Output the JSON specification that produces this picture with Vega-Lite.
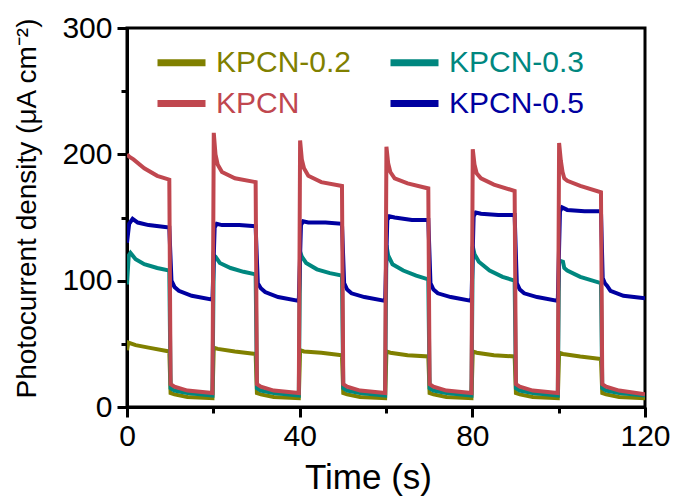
{
  "$schema": "https://vega.github.io/schema/vega-lite/v6.json",
  "width": 518,
  "height": 379,
  "autosize": "none",
  "padding": {"left": 127, "top": 28, "right": 29, "bottom": 91},
  "background": "white",
  "config": {
    "view": {"stroke": "black", "strokeWidth": 3},
    "font": "Liberation Sans",
    "axis": {
      "grid": false,
      "domainColor": "black",
      "domainWidth": 3,
      "tickColor": "black",
      "tickWidth": 3,
      "labelColor": "black",
      "titleColor": "black",
      "labelFont": "Liberation Sans",
      "titleFont": "Liberation Sans",
      "labelFontSize": 30,
      "titleFontWeight": "normal"
    }
  },
  "data": {"values": [
    {"s":"KPCN-0.2","t":0,"v":45},{"s":"KPCN-0.2","t":0.3,"v":51},{"s":"KPCN-0.2","t":2,"v":49},{"s":"KPCN-0.2","t":5,"v":47},{"s":"KPCN-0.2","t":9.8,"v":44},{"s":"KPCN-0.2","t":10.1,"v":11},{"s":"KPCN-0.2","t":11,"v":10},{"s":"KPCN-0.2","t":14,"v":8},{"s":"KPCN-0.2","t":19.8,"v":7},
    {"s":"KPCN-0.2","t":20.1,"v":47},{"s":"KPCN-0.2","t":21,"v":46},{"s":"KPCN-0.2","t":25,"v":44},{"s":"KPCN-0.2","t":29.8,"v":42},{"s":"KPCN-0.2","t":30.1,"v":11},{"s":"KPCN-0.2","t":31,"v":10},{"s":"KPCN-0.2","t":34,"v":8},{"s":"KPCN-0.2","t":39.8,"v":7},
    {"s":"KPCN-0.2","t":40.1,"v":45},{"s":"KPCN-0.2","t":41,"v":44},{"s":"KPCN-0.2","t":45,"v":43},{"s":"KPCN-0.2","t":49.8,"v":41},{"s":"KPCN-0.2","t":50.1,"v":11},{"s":"KPCN-0.2","t":51,"v":10},{"s":"KPCN-0.2","t":54,"v":8},{"s":"KPCN-0.2","t":59.8,"v":7},
    {"s":"KPCN-0.2","t":60.1,"v":44},{"s":"KPCN-0.2","t":61,"v":43},{"s":"KPCN-0.2","t":65,"v":41},{"s":"KPCN-0.2","t":69.8,"v":40},{"s":"KPCN-0.2","t":70.1,"v":11},{"s":"KPCN-0.2","t":71,"v":10},{"s":"KPCN-0.2","t":74,"v":8},{"s":"KPCN-0.2","t":79.8,"v":7},
    {"s":"KPCN-0.2","t":80.1,"v":44},{"s":"KPCN-0.2","t":81,"v":43},{"s":"KPCN-0.2","t":85,"v":41},{"s":"KPCN-0.2","t":89.8,"v":40},{"s":"KPCN-0.2","t":90.1,"v":11},{"s":"KPCN-0.2","t":91,"v":10},{"s":"KPCN-0.2","t":94,"v":8},{"s":"KPCN-0.2","t":99.8,"v":7},
    {"s":"KPCN-0.2","t":100.1,"v":43},{"s":"KPCN-0.2","t":101,"v":42},{"s":"KPCN-0.2","t":105,"v":40},{"s":"KPCN-0.2","t":109.8,"v":38},{"s":"KPCN-0.2","t":110.1,"v":11},{"s":"KPCN-0.2","t":111,"v":10},{"s":"KPCN-0.2","t":114,"v":8},{"s":"KPCN-0.2","t":120,"v":7},

    {"s":"KPCN-0.3","t":0,"v":97},{"s":"KPCN-0.3","t":0.4,"v":120},{"s":"KPCN-0.3","t":0.8,"v":122},{"s":"KPCN-0.3","t":2,"v":117},{"s":"KPCN-0.3","t":4,"v":113},{"s":"KPCN-0.3","t":7,"v":110},{"s":"KPCN-0.3","t":9.8,"v":108},{"s":"KPCN-0.3","t":10.1,"v":15},{"s":"KPCN-0.3","t":11,"v":13},{"s":"KPCN-0.3","t":14,"v":11},{"s":"KPCN-0.3","t":19.8,"v":9},
    {"s":"KPCN-0.3","t":20.1,"v":120},{"s":"KPCN-0.3","t":20.5,"v":119},{"s":"KPCN-0.3","t":21.5,"v":114},{"s":"KPCN-0.3","t":24,"v":110},{"s":"KPCN-0.3","t":27,"v":107},{"s":"KPCN-0.3","t":29.8,"v":105},{"s":"KPCN-0.3","t":30.1,"v":15},{"s":"KPCN-0.3","t":31,"v":13},{"s":"KPCN-0.3","t":34,"v":11},{"s":"KPCN-0.3","t":39.8,"v":9},
    {"s":"KPCN-0.3","t":40.1,"v":123},{"s":"KPCN-0.3","t":40.5,"v":119},{"s":"KPCN-0.3","t":41.5,"v":114},{"s":"KPCN-0.3","t":44,"v":109},{"s":"KPCN-0.3","t":47,"v":106},{"s":"KPCN-0.3","t":49.8,"v":104},{"s":"KPCN-0.3","t":50.1,"v":15},{"s":"KPCN-0.3","t":51,"v":13},{"s":"KPCN-0.3","t":54,"v":11},{"s":"KPCN-0.3","t":59.8,"v":9},
    {"s":"KPCN-0.3","t":60.1,"v":128},{"s":"KPCN-0.3","t":60.5,"v":120},{"s":"KPCN-0.3","t":61.5,"v":113},{"s":"KPCN-0.3","t":64,"v":108},{"s":"KPCN-0.3","t":67,"v":104},{"s":"KPCN-0.3","t":69.8,"v":101},{"s":"KPCN-0.3","t":70.1,"v":15},{"s":"KPCN-0.3","t":71,"v":13},{"s":"KPCN-0.3","t":74,"v":11},{"s":"KPCN-0.3","t":79.8,"v":9},
    {"s":"KPCN-0.3","t":80.1,"v":127},{"s":"KPCN-0.3","t":80.5,"v":121},{"s":"KPCN-0.3","t":81.5,"v":115},{"s":"KPCN-0.3","t":84,"v":108},{"s":"KPCN-0.3","t":87,"v":103},{"s":"KPCN-0.3","t":89.8,"v":100},{"s":"KPCN-0.3","t":90.1,"v":15},{"s":"KPCN-0.3","t":91,"v":13},{"s":"KPCN-0.3","t":94,"v":11},{"s":"KPCN-0.3","t":99.8,"v":9},
    {"s":"KPCN-0.3","t":100.1,"v":116},{"s":"KPCN-0.3","t":101,"v":115},{"s":"KPCN-0.3","t":101.3,"v":110},{"s":"KPCN-0.3","t":102,"v":108},{"s":"KPCN-0.3","t":105,"v":103},{"s":"KPCN-0.3","t":109.8,"v":98},{"s":"KPCN-0.3","t":110.1,"v":15},{"s":"KPCN-0.3","t":111,"v":13},{"s":"KPCN-0.3","t":114,"v":11},{"s":"KPCN-0.3","t":120,"v":9},

    {"s":"KPCN-0.5","t":0,"v":130},{"s":"KPCN-0.5","t":0.5,"v":145},{"s":"KPCN-0.5","t":1.3,"v":149},{"s":"KPCN-0.5","t":2.5,"v":146},{"s":"KPCN-0.5","t":5,"v":144},{"s":"KPCN-0.5","t":9.8,"v":142},{"s":"KPCN-0.5","t":10.3,"v":100},{"s":"KPCN-0.5","t":11,"v":95},{"s":"KPCN-0.5","t":12,"v":92},{"s":"KPCN-0.5","t":15,"v":88},{"s":"KPCN-0.5","t":19.8,"v":85},
    {"s":"KPCN-0.5","t":20.3,"v":142},{"s":"KPCN-0.5","t":20.8,"v":145},{"s":"KPCN-0.5","t":22,"v":144},{"s":"KPCN-0.5","t":26,"v":144},{"s":"KPCN-0.5","t":29.8,"v":143},{"s":"KPCN-0.5","t":30.3,"v":98},{"s":"KPCN-0.5","t":31,"v":94},{"s":"KPCN-0.5","t":32,"v":91},{"s":"KPCN-0.5","t":35,"v":87},{"s":"KPCN-0.5","t":39.8,"v":84},
    {"s":"KPCN-0.5","t":40.3,"v":144},{"s":"KPCN-0.5","t":40.8,"v":147},{"s":"KPCN-0.5","t":42,"v":146},{"s":"KPCN-0.5","t":46,"v":146},{"s":"KPCN-0.5","t":49.8,"v":145},{"s":"KPCN-0.5","t":50.3,"v":98},{"s":"KPCN-0.5","t":51,"v":93},{"s":"KPCN-0.5","t":52,"v":90},{"s":"KPCN-0.5","t":55,"v":87},{"s":"KPCN-0.5","t":59.8,"v":84},
    {"s":"KPCN-0.5","t":60.3,"v":148},{"s":"KPCN-0.5","t":60.8,"v":151},{"s":"KPCN-0.5","t":62,"v":150},{"s":"KPCN-0.5","t":66,"v":148},{"s":"KPCN-0.5","t":69.8,"v":148},{"s":"KPCN-0.5","t":70.3,"v":98},{"s":"KPCN-0.5","t":71,"v":93},{"s":"KPCN-0.5","t":72,"v":90},{"s":"KPCN-0.5","t":75,"v":87},{"s":"KPCN-0.5","t":79.8,"v":84},
    {"s":"KPCN-0.5","t":80.3,"v":151},{"s":"KPCN-0.5","t":80.8,"v":154},{"s":"KPCN-0.5","t":82,"v":153},{"s":"KPCN-0.5","t":86,"v":152},{"s":"KPCN-0.5","t":89.8,"v":152},{"s":"KPCN-0.5","t":90.3,"v":98},{"s":"KPCN-0.5","t":91,"v":93},{"s":"KPCN-0.5","t":92,"v":90},{"s":"KPCN-0.5","t":95,"v":87},{"s":"KPCN-0.5","t":99.8,"v":84},
    {"s":"KPCN-0.5","t":100.3,"v":155},{"s":"KPCN-0.5","t":100.8,"v":158},{"s":"KPCN-0.5","t":102,"v":156},{"s":"KPCN-0.5","t":106,"v":155},{"s":"KPCN-0.5","t":109.8,"v":155},{"s":"KPCN-0.5","t":110.2,"v":102},{"s":"KPCN-0.5","t":110.7,"v":98},{"s":"KPCN-0.5","t":111.2,"v":96},{"s":"KPCN-0.5","t":112,"v":92},{"s":"KPCN-0.5","t":115,"v":88},{"s":"KPCN-0.5","t":120,"v":86},

    {"s":"KPCN","t":0,"v":200},{"s":"KPCN","t":0.6,"v":198},{"s":"KPCN","t":1.5,"v":196},{"s":"KPCN","t":4,"v":189},{"s":"KPCN","t":7,"v":183},{"s":"KPCN","t":9.8,"v":180},{"s":"KPCN","t":10.1,"v":18},{"s":"KPCN","t":11,"v":16},{"s":"KPCN","t":14,"v":13},{"s":"KPCN","t":19.8,"v":11},
    {"s":"KPCN","t":20.1,"v":217},{"s":"KPCN","t":20.5,"v":200},{"s":"KPCN","t":21,"v":192},{"s":"KPCN","t":22,"v":186},{"s":"KPCN","t":25,"v":181},{"s":"KPCN","t":29.8,"v":178},{"s":"KPCN","t":30.1,"v":18},{"s":"KPCN","t":31,"v":16},{"s":"KPCN","t":34,"v":13},{"s":"KPCN","t":39.8,"v":11},
    {"s":"KPCN","t":40.1,"v":211},{"s":"KPCN","t":40.5,"v":196},{"s":"KPCN","t":41,"v":189},{"s":"KPCN","t":42,"v":183},{"s":"KPCN","t":45,"v":178},{"s":"KPCN","t":49.8,"v":175},{"s":"KPCN","t":50.1,"v":18},{"s":"KPCN","t":51,"v":16},{"s":"KPCN","t":54,"v":13},{"s":"KPCN","t":59.8,"v":11},
    {"s":"KPCN","t":60.1,"v":206},{"s":"KPCN","t":60.5,"v":193},{"s":"KPCN","t":61,"v":186},{"s":"KPCN","t":62,"v":181},{"s":"KPCN","t":65,"v":177},{"s":"KPCN","t":69.8,"v":173},{"s":"KPCN","t":70.1,"v":18},{"s":"KPCN","t":71,"v":16},{"s":"KPCN","t":74,"v":13},{"s":"KPCN","t":79.8,"v":11},
    {"s":"KPCN","t":80.1,"v":204},{"s":"KPCN","t":80.5,"v":192},{"s":"KPCN","t":81,"v":185},{"s":"KPCN","t":82,"v":181},{"s":"KPCN","t":85,"v":176},{"s":"KPCN","t":89.8,"v":171},{"s":"KPCN","t":90.1,"v":18},{"s":"KPCN","t":91,"v":16},{"s":"KPCN","t":94,"v":13},{"s":"KPCN","t":99.8,"v":11},
    {"s":"KPCN","t":100.1,"v":209},{"s":"KPCN","t":100.5,"v":195},{"s":"KPCN","t":100.9,"v":186},{"s":"KPCN","t":101.3,"v":181},{"s":"KPCN","t":102,"v":179},{"s":"KPCN","t":105,"v":175},{"s":"KPCN","t":109.8,"v":170},{"s":"KPCN","t":110.1,"v":18},{"s":"KPCN","t":111,"v":16},{"s":"KPCN","t":114,"v":13},{"s":"KPCN","t":120,"v":10}
  ]},
  "mark": {"type": "line", "strokeWidth": 4, "clip": true},
  "encoding": {
    "x": {
      "field": "t", "type": "quantitative",
      "scale": {"domain": [0, 120], "nice": false},
      "axis": {
        "values": [0, 20, 40, 60, 80, 100, 120],
        "labelExpr": "datum.value % 40 === 0 ? datum.label : ''",
        "tickSize": {"condition": {"test": "datum.value % 40 === 0", "value": 10}, "value": 6},
        "labelPadding": 4,
        "labelFlush": false,
        "title": "Time (s)",
        "titleFontSize": 35,
        "titleBaseline": "alphabetic",
        "titleX": 241,
        "titleY": 81
      }
    },
    "y": {
      "field": "v", "type": "quantitative",
      "scale": {"domain": [0, 300], "nice": false},
      "axis": {
        "values": [0, 50, 100, 150, 200, 250, 300],
        "labelExpr": "datum.value % 100 === 0 ? datum.label : ''",
        "tickSize": {"condition": {"test": "datum.value % 100 === 0", "value": 10}, "value": 6},
        "labelPadding": 5,
        "labelFlush": false,
        "title": "Photocurrent density (μA cm⁻²)",
        "titleFontSize": 28,
        "titleAngle": -90,
        "titleBaseline": "alphabetic",
        "titleX": -92,
        "titleY": 180
      }
    },
    "color": {
      "field": "s", "type": "nominal",
      "scale": {
        "domain": ["KPCN-0.2", "KPCN-0.3", "KPCN", "KPCN-0.5"],
        "range": ["#808000", "#00877f", "#c0474f", "#0000a0"]
      },
      "legend": {
        "title": null,
        "orient": "none",
        "legendX": 39,
        "legendY": 19,
        "columns": 2,
        "direction": "horizontal",
        "padding": 0,
        "rowPadding": 10,
        "columnPadding": 24,
        "symbolType": "M-2,0H2",
        "symbolSize": 576,
        "symbolStrokeWidth": 7,
        "labelFont": "Liberation Sans",
        "labelFontSize": 30,
        "labelOffset": 19,
        "labelLimit": 300,
        "encoding": {
          "labels": {
            "fill": {
              "condition": [
                {"test": "datum.value === 'KPCN'", "value": "#c0474f"},
                {"test": "datum.value === 'KPCN-0.3'", "value": "#00877f"},
                {"test": "datum.value === 'KPCN-0.5'", "value": "#0000a0"}
              ],
              "value": "#808000"
            }
          }
        }
      }
    }
  }
}
